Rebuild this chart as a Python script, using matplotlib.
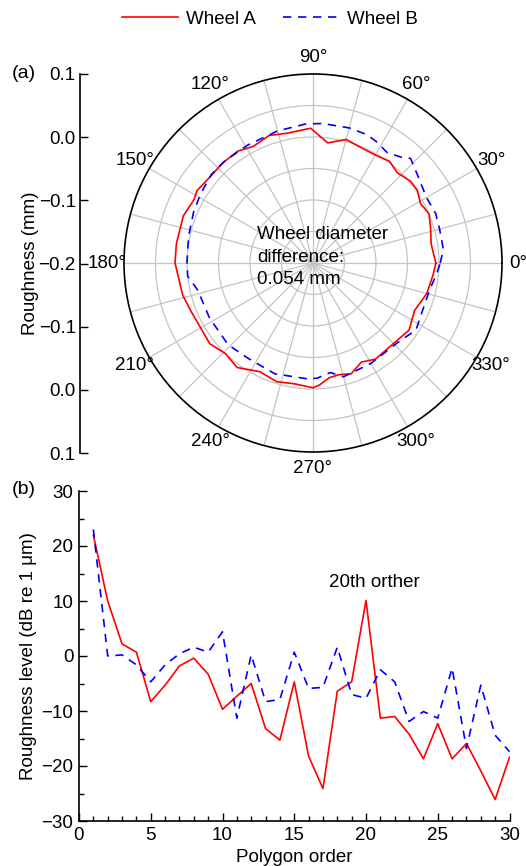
import numpy as np
import matplotlib
matplotlib.use("Agg")
import matplotlib.pyplot as plt
from matplotlib.ticker import MultipleLocator

plt.rcParams['font.family'] = ['Liberation Sans', 'DejaVu Sans']
plt.rcParams['font.size'] = 13.5
plt.rcParams['axes.unicode_minus'] = True

# (a) polar roughness, angle in degrees, roughness in mm
ang_a = [0, 9, 17, 23, 29, 35, 40, 47, 53, 60, 66, 75, 83, 91, 101, 109, 117, 124, 132,
         140, 148, 152, 160, 172, 180, 194, 202, 209, 218, 226, 234, 244, 253, 261, 270,
         273, 278, 283, 289, 296, 303, 316, 325, 335, 345, 355]
rough_a = [-0.005, -0.010, -0.005, 0.000, -0.005, 0.002, 0.002, -0.004, 0.002, -0.002,
           -0.002, 0.003, -0.008, 0.014, 0.010, 0.014, 0.008, 0.014, 0.014,
           0.013, 0.017, 0.014, 0.019, 0.019, 0.019, 0.013, 0.008, 0.006, 0.008, 0.000,
           0.005, -0.008, -0.003, -0.006, -0.002,
           -0.006, -0.016, -0.018, -0.014, -0.025, -0.018, -0.019, -0.014, -0.022, -0.013, -0.008]

ang_b = [0, 6, 15, 22, 30, 41, 47, 50, 56, 62, 67, 75, 86, 93, 105, 119, 131, 139, 146,
         151, 157, 168, 180, 186, 194, 198, 208, 224, 236, 251, 267, 272, 279, 285, 300,
         316, 327, 335, 347, 355]
rough_b = [0.002, 0.008, 0.008, 0.010, 0.008, 0.018, 0.027, 0.019, 0.011, 0.017, 0.021,
           0.022, 0.022, 0.021, 0.017, 0.014, 0.014, 0.014, 0.010,
           0.008, 0.006, 0.002, 0.000, 0.000, -0.013, -0.014, -0.014, -0.013, -0.017, -0.014,
           -0.016, -0.017, -0.024, -0.013, -0.016,
           -0.016, -0.005, -0.010, -0.010, -0.003]

# (b) roughness level spectrum
order = list(range(1, 31))
level_a = [22, 10, 2.2, 0.7, -8.3, -5.3, -1.8, -0.4, -3.3, -9.7,
           -7.3, -5.0, -13.2, -15.3, -4.7, -18.2, -24.1, -6.4, -4.7, 10.1,
           -11.3, -11.0, -14.2, -18.7, -12.3, -18.7, -15.9, -20.9, -26.1, -18.4]
level_b = [23, 0.0, 0.2, -1.6, -4.7, -1.6, 0.4, 1.6, 0.7, 4.4,
           -11.3, 0.2, -8.3, -7.9, 0.7, -5.9, -5.7, 1.6, -7.0, -7.7,
           -2.5, -4.7, -11.9, -10.1, -11.3, -2.2, -16.8, -5.3, -14.4, -17.4]

W, H = 526, 866
fig = plt.figure(figsize=(W / 100, H / 100), dpi=100)

red = '#ff0000'
blue = '#0000ff'
grid_c = '#c4c4c4'

# ---- polar part
cx, cy, R = 313, 263, 189
ax = fig.add_axes([(cx - R) / W, 1 - (cy + R) / H, 2 * R / W, 2 * R / H], projection='polar')
ta = np.deg2rad(ang_a + [ang_a[0] + 360])
tb = np.deg2rad(ang_b + [ang_b[0] + 360])
ax.plot(ta, rough_a + [rough_a[0]], '-', color=red, lw=1.2, label='Wheel A', zorder=3)
ax.plot(tb, rough_b + [rough_b[0]], '--', color=blue, lw=1.2, dashes=(5, 4), label='Wheel B', zorder=3)
ax.set_ylim(-0.2, 0.1)
ax.set_yticks([-0.15, -0.1, -0.05, 0.0, 0.05])
ax.set_yticklabels([])
angs = np.arange(0, 360, 15)
ax.set_xticks(np.deg2rad(angs))
ax.set_xticklabels([f'{a}°' if a % 30 == 0 else '' for a in angs])
ax.grid(True, color=grid_c, lw=0.9)
ax.tick_params(axis='x', direction='in', length=6, width=1, pad=5, labelsize=13.5)
ax.spines['polar'].set_linewidth(1.2)
fig.text(257 / W, 1 - 257 / H, 'Wheel diameter\ndifference:\n0.054 mm',
         fontsize=13.5, linespacing=1.4, ha='left', va='center', zorder=4)

# left radial scale
ay = fig.add_axes([80 / W, 1 - 453 / H, 0.001, 379 / H])
ay.set_ylim(-0.3, 0.3)
ay.set_yticks([-0.3, -0.2, -0.1, 0.0, 0.1, 0.2, 0.3])
ay.set_yticklabels(['0.1', '0.0', '\u22120.1', '\u22120.2', '\u22120.1', '0.0', '0.1'])
ay.set_xticks([])
for s in ['top', 'right', 'bottom']:
    ay.spines[s].set_visible(False)
ay.spines['left'].set_linewidth(1.2)
ay.patch.set_alpha(0)
ay.tick_params(axis='y', direction='in', length=6, width=1, pad=3, labelsize=13.5)
ay.set_ylabel('Roughness (mm)', fontsize=13.5, labelpad=0)

fig.text(12 / W, 1 - 73 / H, '(a)', fontsize=14, va='center', ha='left')
fig.text(12 / W, 1 - 490 / H, '(b)', fontsize=14, va='center', ha='left')

# ---- spectrum
bx = fig.add_axes([79 / W, 1 - 821 / H, 430.5 / W, 330 / H])
bx.plot(order, level_a, '-', color=red, lw=1.2)
bx.plot(order, level_b, '--', color=blue, lw=1.2, dashes=(5, 4))
bx.set_xlim(0, 30)
bx.set_ylim(-30, 30)
bx.xaxis.set_major_locator(MultipleLocator(5))
bx.xaxis.set_minor_locator(MultipleLocator(1))
bx.yaxis.set_major_locator(MultipleLocator(10))
bx.yaxis.set_minor_locator(MultipleLocator(5))
for s in ['top', 'right']:
    bx.spines[s].set_visible(False)
for s in ['left', 'bottom']:
    bx.spines[s].set_linewidth(1.2)
bx.tick_params(which='major', direction='in', length=6, width=1, pad=4, labelsize=13.5)
bx.tick_params(which='minor', direction='in', length=3.5, width=1)
bx.set_xlabel('Polygon order', fontsize=13.5, labelpad=4)
bx.set_ylabel('Roughness level (dB re 1 \u03bcm)', fontsize=13.5, labelpad=3)
bx.text(20.6, 13.3, '20th orther', fontsize=13.5, ha='center', va='center')

fig.legend(handles=ax.lines, labels=['Wheel A', 'Wheel B'], loc='center',
           bbox_to_anchor=(270 / W, 1 - 19 / H), ncol=2, frameon=False, fontsize=13.5,
           handlelength=3.0, handletextpad=0.45, columnspacing=1.4)

fig.savefig('out.png', dpi=100)
